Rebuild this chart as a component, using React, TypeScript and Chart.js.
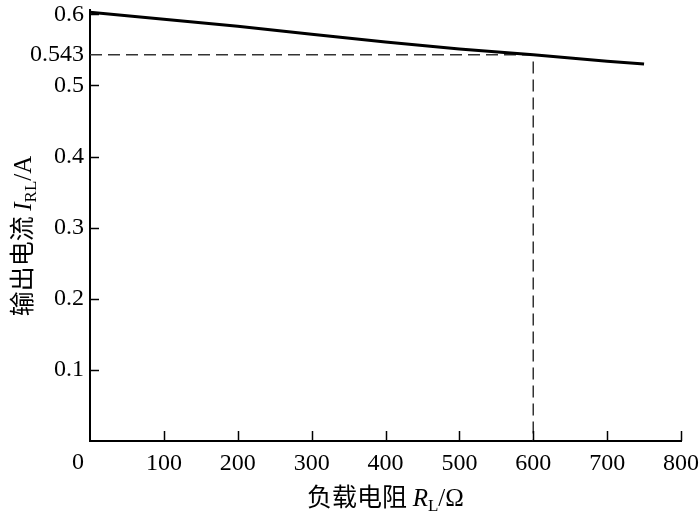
import React, { useEffect, useRef } from "react";
import { Chart, registerables } from "chart.js";

Chart.register(...registerables);

const resistance = [0, 100, 200, 300, 400, 500, 600, 700, 750];
const current = [0.603, 0.593, 0.583, 0.572, 0.561, 0.551, 0.543, 0.534, 0.53];
const markerR = [0, 600, 600];
const markerI = [0.543, 0.543, 0];
const xTicks = [100, 200, 300, 400, 500, 600, 700, 800];
const yTicks = [0.1, 0.2, 0.3, 0.4, 0.5, 0.6];
const yExtraTicks = [0.543];
const xTitle = ["负载电阻 ", "R", "L", "/Ω"];
const yTitle = ["输出电流 ", "I", "RL", "/A"];

const SERIF = "'Liberation Serif', 'Times New Roman', serif";
const CJK = "'Noto Sans CJK SC', sans-serif";

function drawTitle(ctx: CanvasRenderingContext2D, parts: string[]) {
  const segs = [
    { t: parts[0], f: `25px ${CJK}`, dy: 0 },
    { t: parts[1], f: `italic 25px ${SERIF}`, dy: 0 },
    { t: parts[2], f: `17px ${SERIF}`, dy: 5 },
    { t: parts[3], f: `25px ${SERIF}`, dy: 0 },
  ];
  let total = 0;
  const widths = segs.map((s) => {
    ctx.font = s.f;
    const w = ctx.measureText(s.t).width;
    total += w;
    return w;
  });
  let x = -total / 2;
  ctx.textBaseline = "alphabetic";
  ctx.textAlign = "left";
  ctx.fillStyle = "#000";
  segs.forEach((s, i) => {
    ctx.font = s.f;
    ctx.fillText(s.t, x, 9 + s.dy);
    x += widths[i];
  });
}

const decorPlugin = {
  id: "decor",
  afterDraw(chart: any) {
    const ctx: CanvasRenderingContext2D = chart.ctx;
    const xs = chart.scales.x;
    const ys = chart.scales.y;
    const area = chart.chartArea;
    ctx.save();
    ctx.strokeStyle = "#000";
    ctx.lineWidth = 1.5;
    xTicks.forEach((v) => {
      const px = Math.round(xs.getPixelForValue(v)) + 0.5;
      ctx.beginPath();
      ctx.moveTo(px, area.bottom);
      ctx.lineTo(px, area.bottom - 10);
      ctx.stroke();
    });
    yTicks.forEach((v) => {
      const py = Math.round(ys.getPixelForValue(v)) + 0.5;
      ctx.beginPath();
      ctx.moveTo(area.left, py);
      ctx.lineTo(area.left + 9, py);
      ctx.stroke();
    });
    // origin label
    ctx.font = `24px ${SERIF}`;
    ctx.fillStyle = "#000";
    ctx.textAlign = "center";
    ctx.textBaseline = "top";
    ctx.fillText("0", area.left - 12, xs.top + 10);
    // x title
    ctx.save();
    ctx.translate((area.left + area.right) / 2, 497);
    drawTitle(ctx, xTitle);
    ctx.restore();
    // y title
    ctx.save();
    ctx.translate(22, 236);
    ctx.rotate(-Math.PI / 2);
    drawTitle(ctx, yTitle);
    ctx.restore();
    ctx.restore();
  },
};

export default function App() {
  const ref = useRef<HTMLCanvasElement>(null);
  useEffect(() => {
    document.body.style.margin = "0";
    const canvas = ref.current!;
    const chart = new Chart(canvas, {
      type: "scatter",
      data: {
        datasets: [
          {
            data: resistance.map((r, i) => ({ x: r, y: current[i] })),
            showLine: true,
            borderColor: "#000",
            borderWidth: 3,
            pointRadius: 0,
            tension: 0,
          },
          {
            data: markerR.map((r, i) => ({ x: r, y: markerI[i] })),
            showLine: true,
            borderColor: "#333",
            borderWidth: 1.5,
            borderDash: [12, 6],
            pointRadius: 0,
            tension: 0,
          },
        ],
      },
      options: {
        animation: false,
        responsive: false,
        devicePixelRatio: 1,
        layout: { padding: { top: 10, right: 19, left: 0, bottom: 0 } },
        plugins: { legend: { display: false }, tooltip: { enabled: false } },
        scales: {
          x: {
            type: "linear",
            min: 0,
            max: 800,
            grid: { display: false, drawTicks: false },
            border: { display: true, color: "#000", width: 2 },
            afterBuildTicks: (s: any) => {
              s.ticks = xTicks.map((v) => ({ value: v }));
            },
            afterFit: (s: any) => {
              s.height = 83;
              s.paddingLeft = 0;
              s.paddingRight = 0;
            },
            ticks: {
              color: "#000",
              font: { family: SERIF, size: 24 },
              padding: 8,
              maxRotation: 0,
              autoSkip: false,
            },
          },
          y: {
            type: "linear",
            min: 0,
            max: 0.606,
            grid: { display: false, drawTicks: false },
            border: { display: true, color: "#000", width: 2 },
            afterBuildTicks: (s: any) => {
              s.ticks = [...yTicks, ...yExtraTicks].map((v) => ({ value: v }));
            },
            afterFit: (s: any) => {
              s.width = 90;
              s.paddingTop = 0;
              s.paddingBottom = 0;
            },
            ticks: {
              color: "#000",
              font: { family: SERIF, size: 24 },
              padding: 6,
              autoSkip: false,
              callback: (v: any) => String(Math.round(Number(v) * 1000) / 1000),
            },
          },
        },
      },
      plugins: [decorPlugin],
    });
    return () => chart.destroy();
  }, []);
  return (
    <div style={{ width: 700, height: 524 }}>
      <canvas ref={ref} width={700} height={524} style={{ display: "block" }} />
    </div>
  );
}
